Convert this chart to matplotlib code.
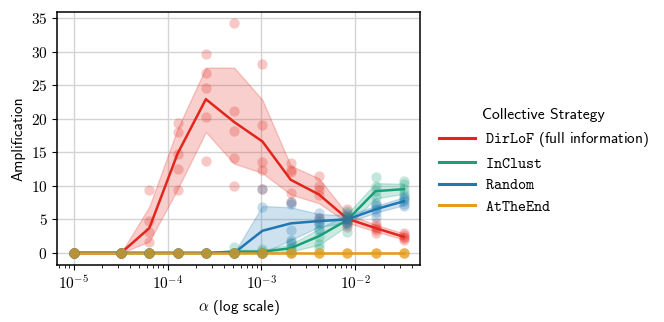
import numpy as np
import matplotlib
matplotlib.use("Agg")
import matplotlib.pyplot as plt
from matplotlib.ticker import FuncFormatter, LogLocator, NullFormatter

plt.rcParams["mathtext.fontset"] = "cm"

# alpha values (x axis)
alphas = [1e-5, 3.2e-5, 6.4e-5, 1.28e-4, 2.56e-4, 5.12e-4, 1.024e-3,
          2.048e-3, 4.096e-3, 8.192e-3, 1.6384e-2, 3.2768e-2]

strategies = [r"$\mathtt{DirLoF}$ (full information)", r"$\mathtt{InClust}$",
              r"$\mathtt{Random}$", r"$\mathtt{AtTheEnd}$"]
colors = ["#e3261c", "#17a07a", "#1f77b4", "#e69b1c"]

# mean amplification per alpha
mean_dirlof = [0, 0, 3.7, 14.8, 22.9, 19.5, 16.6, 10.9, 8.7, 5.1, 3.7, 2.4]
mean_inclust = [0, 0, 0, 0, 0, 0.18, 0.18, 0.7, 2.5, 4.9, 9.2, 9.5]
mean_random = [0, 0, 0, 0, 0, 0, 3.3, 4.4, 4.75, 5.0, 6.5, 7.7]
mean_attheend = [0] * 12

# confidence band (low, high)
lo_dirlof = [0, 0, 1.7, 9.5, 18.0, 13.3, 11.9, 8.7, 7.4, 4.5, 3.2, 2.0]
hi_dirlof = [0, 0, 6.9, 18.5, 27.6, 27.6, 22.8, 13.0, 11.1, 5.8, 4.2, 2.9]
lo_inclust = [0, 0, 0, 0, 0, 0, 0, 0.2, 1.2, 4.0, 8.1, 8.8]
hi_inclust = [0, 0, 0, 0, 0, 0.5, 0.4, 1.3, 3.6, 5.8, 10.4, 10.3]
lo_random = [0, 0, 0, 0, 0, 0, 0, 1.9, 3.9, 4.5, 6.0, 7.1]
hi_random = [0, 0, 0, 0, 0, 0, 7.0, 6.8, 5.8, 5.6, 7.0, 8.3]
lo_attheend = [0] * 12
hi_attheend = [0] * 12

# individual runs (5 seeds per alpha)
runs_dirlof = [
    [0, 0, 0, 0, 0], [0, 0, 0, 0, 0], [9.4, 4.7, 3.1, 1.7, 0],
    [19.4, 18.0, 14.8, 12.5, 9.4], [29.6, 26.8, 24.5, 20.2, 13.7],
    [34.3, 21.2, 18.1, 14.2, 9.9], [28.2, 19.0, 13.5, 12.4, 9.5],
    [13.4, 12.4, 12.0, 8.9, 7.6], [11.4, 9.9, 9.4, 8.6, 5.2],
    [6.5, 5.5, 5.0, 4.5, 3.8], [4.5, 4.0, 3.7, 3.4, 3.0],
    [2.9, 2.6, 2.4, 2.2, 1.9]]
runs_inclust = [
    [0, 0, 0, 0, 0], [0, 0, 0, 0, 0], [0, 0, 0, 0, 0], [0, 0, 0, 0, 0],
    [0, 0, 0, 0, 0], [0.9, 0, 0, 0, 0], [0.6, 0.3, 0, 0, 0],
    [1.6, 1.0, 0.6, 0.3, 0], [4.5, 3.4, 2.4, 1.3, 0.8],
    [6.3, 5.6, 5.0, 4.5, 3.1], [11.3, 9.9, 9.2, 8.4, 7.2],
    [10.7, 10.2, 9.5, 8.9, 8.2]]
runs_random = [
    [0, 0, 0, 0, 0], [0, 0, 0, 0, 0], [0, 0, 0, 0, 0], [0, 0, 0, 0, 0],
    [0, 0, 0, 0, 0], [0, 0, 0, 0, 0], [9.5, 6.9, 0, 0, 0],
    [7.6, 7.3, 3.4, 1.9, 1.5], [6.0, 5.2, 4.7, 4.3, 3.5],
    [6.0, 5.3, 4.9, 4.6, 4.2], [7.4, 7.0, 6.6, 6.1, 5.4],
    [8.5, 8.0, 7.7, 7.3, 7.0]]
runs_attheend = [[0, 0, 0, 0, 0] for _ in range(12)]

means = [mean_dirlof, mean_inclust, mean_random, mean_attheend]
los = [lo_dirlof, lo_inclust, lo_random, lo_attheend]
his = [hi_dirlof, hi_inclust, hi_random, hi_attheend]
runs = [runs_dirlof, runs_inclust, runs_random, runs_attheend]

fig = plt.figure(figsize=(6.64, 3.22), dpi=100)
ax = fig.add_axes([0.086, 0.177, 0.547, 0.786])
x = np.array(alphas)

for name, c, m, lo, hi, r in zip(strategies, colors, means, los, his, runs):
    ax.fill_between(x, lo, hi, color=c, alpha=0.22, lw=1, zorder=2)
    ax.plot(x, m, color=c, lw=1.8, label=name, zorder=3)
    xs = np.repeat(x, 5)
    ys = np.array(r).ravel()
    ax.scatter(xs, ys, s=55, color=c, alpha=0.25, lw=0, zorder=4)

ax.set_xscale("log")
ax.xaxis.set_major_locator(LogLocator(base=10, numticks=10))
ax.xaxis.set_minor_locator(LogLocator(base=10, subs=np.arange(2, 10), numticks=20))
ax.xaxis.set_minor_formatter(NullFormatter())
ax.xaxis.set_major_formatter(FuncFormatter(lambda v, p: r"$10^{%d}$" % round(np.log10(v))))
ax.set_yticks(np.arange(0, 36, 5))
ax.yaxis.set_major_formatter(FuncFormatter(lambda v, p: r"$%d$" % v))
ax.set_ylim(-1.8, 35.9)
ax.tick_params(labelsize=11)
ax.grid(True, which="major", color="#d4d4d4", lw=1)
ax.set_axisbelow(True)
for s in ax.spines.values():
    s.set_linewidth(1.1)

ax.set_xlabel(r"$\alpha$ (log scale)", family="cmss10", fontsize=11)
ax.set_ylabel("Amplification", family="cmss10", fontsize=11)

leg = fig.legend(loc="center left", bbox_to_anchor=(0.64, 0.5), frameon=False,
                 title="Collective Strategy", prop={"family": "cmss10", "size": 11},
                 handlelength=2.4, handletextpad=0.6, labelspacing=0.5)
leg.get_title().set_family("cmss10")
leg.get_title().set_fontsize(11.3)
for h in leg.get_lines():
    h.set_linewidth(2.2)

fig.savefig("out.png", dpi=100)
